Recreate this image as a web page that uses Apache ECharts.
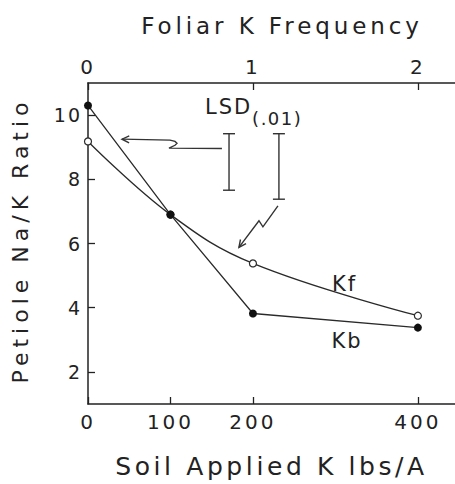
<!DOCTYPE html>
<html>
<head>
<meta charset="utf-8">
<script src="https://cdn.jsdelivr.net/npm/echarts@6/dist/echarts.min.js"></script>
<style>
html,body{margin:0;padding:0;background:#fff;}
#chart{width:455px;height:484px;}
#chart svg text[style*="23px"]{letter-spacing:3.9px;}
#chart svg text[style*="25px"]{letter-spacing:3.6px;}
#chart svg text[style*="22px"]{letter-spacing:5px;}
#chart svg text[style*="20px"]{letter-spacing:3px;}
#chart svg text[style*="19px"]{letter-spacing:2px;}
#chart svg text[style*="21px"]{letter-spacing:2px;}
#chart svg text[style*="18px"]{letter-spacing:1.5px;}
</style>
</head>
<body>
<div id="chart"></div>
<script>
// Soil applied K (lbs/A)
const soilK = [0, 100, 200, 400];
// Petiole Na/K ratio
const kbValues = [10.3, 6.9, 3.82, 3.38];
const kfValues = [9.18, 6.9, 5.38, 3.75];
// Axis ticks
const soilTicks = [0, 100, 200, 400];
const foliarTicks = [0, 1, 2];
const ratioTicks = [2, 4, 6, 8, 10];
// LSD(.01) bars: x position (soil K units), low, high
const lsdX = [171, 231.5];
const lsdLow = [7.66, 7.38];
const lsdHigh = [9.42, 9.42];
// Pointer arrows (tip first), in [soil K, ratio]
const arrow1 = [[41.2, 9.25], [99.4, 9.22], [105.5, 9.18], [107.9, 9.12], [105.5, 9.06], [98.2, 8.97], [162.4, 8.96]];
const arrow2 = [[183, 5.88], [207.3, 6.71], [212.1, 6.52], [230.3, 7.17]];
// Text annotations
const noteTexts = ['LSD', '(.01)', 'Kf', 'Kb'];
const noteX = [170.5, 199, 311, 314];
const noteY = [10.25, 9.9, 4.74, 2.95];

const arrows = [arrow1, arrow2];
const INK = '#222';
const FONT = 'DejaVu Sans';

const chart = echarts.init(document.getElementById('chart'), null, {renderer: 'svg'});

const axisLineStyle = {color: INK, width: 1.5};

const option = {
  animation: false,
  backgroundColor: '#fff',
  textStyle: {fontFamily: FONT, color: INK},
  grid: {left: 88, right: 0, top: 83, bottom: 77, containLabel: false},
  xAxis: [
    {
      type: 'value', position: 'bottom', min: 0, max: 445,
      axisLine: {show: true, lineStyle: axisLineStyle},
      axisTick: {show: true, inside: true, length: 7, lineStyle: {color: INK, width: 1.3}, customValues: soilTicks},
      axisLabel: {customValues: soilTicks, fontSize: 20, fontFamily: FONT, color: INK, margin: 8},
      splitLine: {show: false},
      name: 'Soil Applied K lbs/A', nameLocation: 'middle', nameGap: 50,
      nameTextStyle: {fontSize: 25, fontFamily: FONT, color: INK}
    },
    {
      type: 'value', position: 'top', min: 0, max: 445 / 200,
      axisLine: {show: true, lineStyle: axisLineStyle},
      axisTick: {show: true, inside: true, length: 7, lineStyle: {color: INK, width: 1.3}, customValues: foliarTicks},
      axisLabel: {customValues: foliarTicks, fontSize: 20, fontFamily: FONT, color: INK, margin: 6},
      splitLine: {show: false},
      name: 'Foliar K Frequency', nameLocation: 'middle', nameGap: 46,
      nameTextStyle: {fontSize: 23, fontFamily: FONT, color: INK, padding: [0, 0, 0, 21]}
    }
  ],
  yAxis: {
    type: 'value', min: 1, max: 11,
    axisLine: {show: true, lineStyle: axisLineStyle},
    axisTick: {show: true, inside: true, length: 7, lineStyle: {color: INK, width: 1.3}, customValues: ratioTicks},
    axisLabel: {customValues: ratioTicks, fontSize: 19, fontFamily: FONT, color: INK, margin: 6},
    splitLine: {show: false},
    name: 'Petiole Na/K Ratio', nameLocation: 'middle', nameGap: 57,
    nameTextStyle: {fontSize: 22, fontFamily: FONT, color: INK, padding: [0, 0, 0, 6]}
  },
  series: [
    {
      name: 'Kf', type: 'line', xAxisIndex: 0, yAxisIndex: 0,
      data: soilK.map((x, i) => [x, kfValues[i]]),
      smooth: 0.4,
      symbol: 'circle', symbolSize: 7,
      lineStyle: {color: '#2a2a2a', width: 1.3},
      itemStyle: {color: '#fff', borderColor: '#2a2a2a', borderWidth: 1.2},
      z: 2
    },
    {
      name: 'Kb', type: 'line', xAxisIndex: 0, yAxisIndex: 0,
      data: soilK.map((x, i) => [x, kbValues[i]]),
      symbol: 'circle', symbolSize: 8,
      lineStyle: {color: '#2a2a2a', width: 1.3},
      itemStyle: {color: '#111', borderWidth: 0},
      z: 3
    },
    {
      name: 'LSD', type: 'custom', xAxisIndex: 0, yAxisIndex: 0,
      data: lsdX.map((x, i) => [x, lsdLow[i], lsdHigh[i]]),
      encode: {x: 0, y: [1, 2]},
      renderItem: function (params, api) {
        const top = api.coord([api.value(0), api.value(2)]);
        const bot = api.coord([api.value(0), api.value(1)]);
        const w = 6;
        const st = {stroke: '#333', lineWidth: 1.4};
        return {type: 'group', children: [
          {type: 'line', shape: {x1: top[0], y1: top[1], x2: bot[0], y2: bot[1]}, style: st},
          {type: 'line', shape: {x1: top[0] - w, y1: top[1], x2: top[0] + w, y2: top[1]}, style: st},
          {type: 'line', shape: {x1: bot[0] - w, y1: bot[1], x2: bot[0] + w, y2: bot[1]}, style: st}
        ]};
      },
      z: 4
    },
    {
      name: 'Arrows', type: 'custom', xAxisIndex: 0, yAxisIndex: 0,
      data: arrows.map((a, i) => [a[0][0], a[0][1], i]),
      renderItem: function (params, api) {
        const path = arrows[params.dataIndex].map(p => api.coord(p));
        const tip = path[0], nxt = path[1];
        let dx = nxt[0] - tip[0], dy = nxt[1] - tip[1];
        const L = Math.sqrt(dx * dx + dy * dy);
        dx /= L; dy /= L;
        const hl = 8, ang = 0.45;
        const h1 = [tip[0] + hl * (dx * Math.cos(ang) - dy * Math.sin(ang)), tip[1] + hl * (dx * Math.sin(ang) + dy * Math.cos(ang))];
        const h2 = [tip[0] + hl * (dx * Math.cos(-ang) - dy * Math.sin(-ang)), tip[1] + hl * (dx * Math.sin(-ang) + dy * Math.cos(-ang))];
        const st = {stroke: '#333', lineWidth: 1.4, fill: null};
        return {type: 'group', children: [
          {type: 'polyline', shape: {points: path}, style: st},
          {type: 'polyline', shape: {points: [h1, tip, h2]}, style: st}
        ]};
      },
      z: 4
    },
    {
      name: 'Notes', type: 'custom', xAxisIndex: 0, yAxisIndex: 0,
      data: noteTexts.map((t, i) => [noteX[i], noteY[i], i]),
      renderItem: function (params, api) {
        const i = params.dataIndex;
        const p = api.coord([api.value(0), api.value(1)]);
        const isSub = noteTexts[i] === '(.01)';
        return {
          type: 'text',
          style: {
            text: noteTexts[i], x: p[0], y: p[1],
            fill: INK, fontFamily: FONT,
            fontSize: isSub ? 18 : 21,
            align: isSub ? 'left' : 'center', verticalAlign: 'middle'
          }
        };
      },
      z: 5
    }
  ]
};
chart.setOption(option);
</script>
</body>
</html>
